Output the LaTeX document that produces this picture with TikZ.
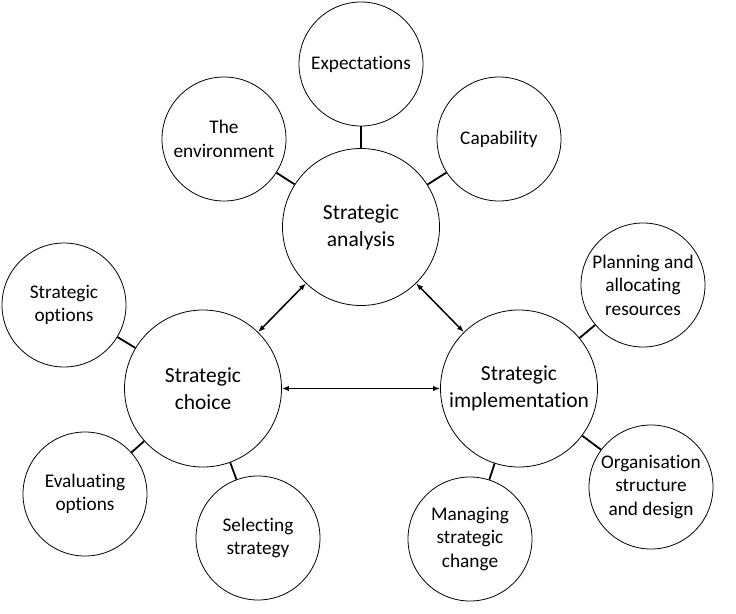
\documentclass[tikz,border=0pt]{standalone}
\usepackage{fontspec}
\setmainfont{Carlito}[Ligatures={NoCommon},Contextuals={NoAlternate}]
\usetikzlibrary{arrows.meta}
\newcommand\tI{t\kern0pt i}
\begin{document}
\begin{tikzpicture}[x=1pt,y=-1pt,
  small/.style={draw=black,line width=0.8pt,circle,inner sep=0pt,minimum size=124pt,align=center,font=\fontsize{19.3}{23.5}\selectfont},
  big/.style={draw=black,line width=0.8pt,circle,inner sep=0pt,minimum size=157pt,align=center,font=\fontsize{21.5}{27}\selectfont},
  link/.style={line width=1.8pt},
  dbl/.style={line width=1.5pt,{Latex[length=7pt,width=5.5pt]}-{Latex[length=7pt,width=5.5pt]}}]
\useasboundingbox (0,0) rectangle (736,613);
\node[big] (sa) at (361,227) {Strategic\\analysis};
\node[big] (sc) at (203,388.5) {Strategic\\choice};
\node[big] (si) at (519,388.5) {Strategic\\implementa\tI on};
\node[small] (ex) at (361,64) {Expecta\tI ons};
\node[small] (en) at (224,139) {The\\environment};
\node[small] (ca) at (499,139) {Capability};
\node[small] (so) at (64,305) {Strategic\\options};
\node[small] (eo) at (85,494) {Evalua\tI ng\\options};
\node[small] (ss) at (258,538) {Selecting\\strategy};
\node[small] (pl) at (643,285) {Planning and\\alloca\tI ng\\resources};
\node[small] (or) at (651,487) {Organisa\tI on\\structure\\and design};
\node[small] (ma) at (470,539) {Managing\\strategic\\change};
\draw[link] (ex) -- (sa);
\draw[link] (en) -- (sa);
\draw[link] (ca) -- (sa);
\draw[link] (so) -- (sc);
\draw[link] (eo) -- (sc);
\draw[link] (ss) -- (sc);
\draw[link] (pl) -- (si);
\draw[link] (or) -- (si);
\draw[link] (ma) -- (si);
\draw[dbl] (sa) -- (sc);
\draw[dbl] (sa) -- (si);
\draw[dbl] (sc) -- (si);
\end{tikzpicture}
\end{document}
